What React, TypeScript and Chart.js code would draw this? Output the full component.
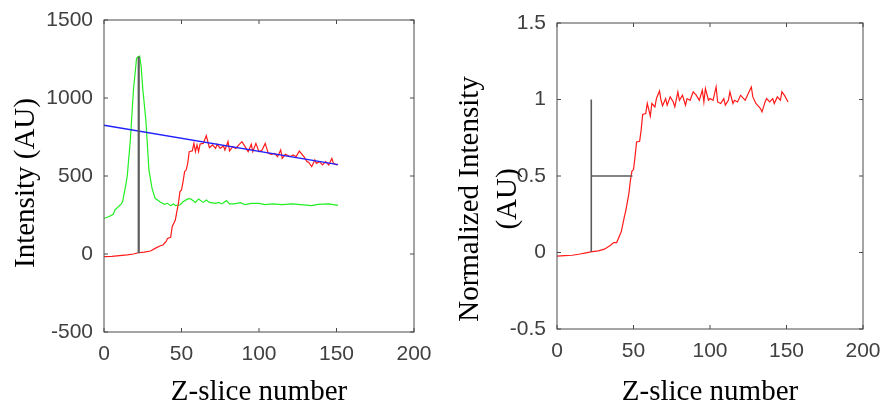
import React, { useEffect, useRef } from 'react';
import { Chart, registerables } from 'chart.js';

Chart.register(...registerables);

// ---------- Axis ticks ----------
const xTicks = [0, 50, 100, 150, 200];
const leftYTicks = [-500, 0, 500, 1000, 1500];
const rightYTicks = [-0.5, 0, 0.5, 1, 1.5];

// ---------- Left panel data ----------
const redSlices = [0, 5, 10, 15, 19, 22, 26, 30, 33, 36, 38, 40, 41, 43, 44, 46, 47, 48, 49, 50, 51, 52, 53, 54, 55, 57, 58, 59, 60, 61, 62, 64, 66, 68, 70, 72, 73, 75, 77, 78, 80, 81, 83, 85, 87, 89, 91, 93, 95, 96, 98, 100, 102, 104, 106, 108, 110, 112, 114, 115, 117, 120, 122, 124, 126, 129, 131, 132, 134, 136, 137, 139, 141, 143, 145, 147, 148, 150, 151];
const redIntensity = [-17, -15, -11, -6, 0, 8, 12, 19, 36, 51, 58, 79, 100, 107, 175, 218, 271, 325, 400, 410, 464, 528, 538, 581, 656, 662, 709, 656, 699, 656, 705, 709, 758, 682, 699, 677, 703, 677, 694, 667, 720, 660, 688, 677, 699, 720, 688, 656, 703, 656, 709, 656, 667, 709, 645, 639, 645, 624, 667, 613, 639, 624, 635, 624, 660, 624, 592, 588, 560, 603, 581, 592, 571, 592, 571, 613, 581, 571, 575];

const greenSlices = [0, 3, 6, 7, 11, 12, 14, 15, 17, 19, 21, 22, 23, 24, 25, 27, 29, 31, 33, 36, 39, 41, 43, 45, 46, 49, 51, 54, 56, 59, 61, 64, 66, 68, 72, 74, 76, 79, 81, 84, 88, 91, 95, 100, 104, 109, 115, 121, 127, 134, 138, 145, 151];
const greenIntensity = [229, 239, 254, 282, 320, 335, 440, 500, 731, 1051, 1254, 1265, 1269, 1200, 1060, 859, 538, 421, 357, 335, 318, 325, 310, 321, 310, 314, 335, 353, 353, 331, 353, 331, 346, 331, 325, 331, 321, 342, 321, 321, 329, 316, 325, 325, 316, 321, 316, 321, 316, 310, 318, 321, 312];

const fitSlices = [0, 151];
const fitIntensity = [825, 573];

const markerSlices = [22.4, 22.4];
const markerIntensity = [5, 1265];

// ---------- Right panel data ----------
const normSlices = [0, 5, 10, 15, 19, 22, 27, 31, 35, 37, 39, 41, 42, 44, 45, 46, 47, 48, 49, 50, 51, 52, 54, 55, 56, 58, 59, 61, 62, 64, 65, 67, 68, 69, 71, 72, 74, 76, 77, 79, 80, 82, 84, 85, 87, 89, 91, 93, 95, 96, 97, 99, 100, 102, 104, 105, 107, 109, 110, 112, 113, 115, 116, 118, 120, 122, 123, 125, 127, 128, 130, 131, 133, 134, 136, 137, 139, 141, 142, 144, 146, 147, 149, 151];
const normIntensity = [-0.024, -0.021, -0.018, -0.01, -0.002, 0.004, 0.011, 0.022, 0.048, 0.065, 0.065, 0.113, 0.135, 0.233, 0.276, 0.331, 0.386, 0.473, 0.533, 0.542, 0.625, 0.723, 0.727, 0.8, 0.902, 0.908, 0.974, 0.891, 0.974, 0.952, 1.007, 1.056, 0.995, 0.96, 1.006, 0.963, 1.017, 0.984, 0.952, 1.05, 0.995, 1.028, 0.963, 1.006, 0.995, 1.05, 1.028, 0.995, 1.061, 0.984, 1.072, 0.995, 1.006, 0.995, 1.082, 0.984, 0.974, 1.006, 0.963, 0.995, 1.05, 0.974, 0.995, 0.984, 1.028, 1.006, 0.995, 1.039, 1.082, 1.017, 0.974, 0.963, 0.941, 0.919, 0.984, 1.006, 0.984, 1.006, 0.974, 1.017, 0.995, 1.05, 1.022, 0.984];

const halfVertSlices = [22.4, 22.4];
const halfVertValues = [0.004, 1];
const halfHorizSlices = [22.4, 49.3];
const halfHorizValues = [0.5, 0.5];

const pts = (xs: number[], ys: number[]) => xs.map((x, i) => ({ x, y: ys[i] }));

const line = (xs: number[], ys: number[], color: string, width: number, order: number) => ({
  data: pts(xs, ys),
  borderColor: color,
  backgroundColor: color,
  borderWidth: width,
  pointRadius: 0,
  showLine: true,
  fill: false,
  tension: 0,
  order,
});

type FrameCfg = {
  xTitle: string;
  xTitleBaseline: number;
  yTitle: string[];
  yTitleBaselines: number[];
  yTitleCenter: number;
};

function makeFrame(cfg: FrameCfg) {
  return {
    id: 'frame',
    afterDraw(chart: any) {
      const { ctx, chartArea: a, scales } = chart;
      const xs = scales.x;
      const ys = scales.y;
      ctx.save();
      ctx.strokeStyle = '#4a4a4a';
      ctx.lineWidth = 1;
      ctx.strokeRect(a.left, a.top, a.right - a.left, a.bottom - a.top);
      ctx.beginPath();
      const L = 4;
      ys.ticks.forEach((t: any) => {
        const y = ys.getPixelForValue(t.value);
        ctx.moveTo(a.left, y);
        ctx.lineTo(a.left + L, y);
        ctx.moveTo(a.right, y);
        ctx.lineTo(a.right - L, y);
      });
      xs.ticks.forEach((t: any) => {
        const x = xs.getPixelForValue(t.value);
        ctx.moveTo(x, a.bottom);
        ctx.lineTo(x, a.bottom - L);
        ctx.moveTo(x, a.top);
        ctx.lineTo(x, a.top + L);
      });
      ctx.stroke();

      ctx.fillStyle = '#000';
      ctx.font = '29px "Liberation Serif", "Times New Roman", serif';
      ctx.textAlign = 'center';
      ctx.textBaseline = 'alphabetic';
      ctx.fillText(cfg.xTitle, (a.left + a.right) / 2, cfg.xTitleBaseline);
      cfg.yTitle.forEach((txt, i) => {
        ctx.save();
        ctx.translate(cfg.yTitleBaselines[i], cfg.yTitleCenter);
        ctx.rotate(-Math.PI / 2);
        ctx.fillText(txt, 0, 0);
        ctx.restore();
      });
      ctx.restore();
    },
  };
}

function buildOptions(
  yMin: number,
  yMax: number,
  yTicks: number[],
  yWidth: number,
  xHeight: number,
  padTop: number,
  padRight: number
) {
  const tickFont = { family: '"Liberation Sans", Arial, sans-serif', size: 21 };
  return {
    responsive: false,
    animation: false as const,
    layout: { padding: { left: 0, top: padTop, right: padRight, bottom: 0 } },
    plugins: { legend: { display: false }, tooltip: { enabled: false } },
    events: [],
    scales: {
      x: {
        type: 'linear' as const,
        min: 0,
        max: 200,
        grid: { display: false, drawTicks: false },
        border: { display: false },
        afterBuildTicks: (s: any) => {
          s.ticks = xTicks.map((v) => ({ value: v }));
        },
        afterFit: (s: any) => {
          s.height = xHeight;
          s.paddingLeft = 0;
          s.paddingRight = 0;
          s.paddingTop = 0;
          s.paddingBottom = 0;
        },
        ticks: {
          autoSkip: false,
          maxRotation: 0,
          padding: 10,
          color: '#404040',
          font: tickFont,
          callback: (v: any) => String(v),
        },
      },
      y: {
        type: 'linear' as const,
        min: yMin,
        max: yMax,
        grid: { display: false, drawTicks: false },
        border: { display: false },
        afterBuildTicks: (s: any) => {
          s.ticks = yTicks.map((v) => ({ value: v }));
        },
        afterFit: (s: any) => {
          s.width = yWidth;
          s.paddingLeft = 0;
          s.paddingRight = 0;
          s.paddingTop = 0;
          s.paddingBottom = 0;
        },
        ticks: {
          autoSkip: false,
          padding: 11,
          color: '#404040',
          font: tickFont,
          callback: (v: any) => String(v),
        },
      },
    },
  };
}

export default function App() {
  const leftRef = useRef<HTMLCanvasElement | null>(null);
  const rightRef = useRef<HTMLCanvasElement | null>(null);

  useEffect(() => {
    const left = new Chart(leftRef.current as HTMLCanvasElement, {
      type: 'scatter',
      data: {
        datasets: [
          line(markerSlices, markerIntensity, '#5c5c5c', 2.2, 0),
          line(fitSlices, fitIntensity, '#2020ff', 1.4, 1),
          line(redSlices, redIntensity, '#ff1a1a', 1.2, 2),
          line(greenSlices, greenIntensity, '#22ee22', 1.2, 3),
        ] as any,
      },
      options: buildOptions(-500, 1500, leftYTicks, 104, 74, 20, 27) as any,
      plugins: [
        makeFrame({
          xTitle: 'Z-slice number',
          xTitleBaseline: 400,
          yTitle: ['Intensity (AU)'],
          yTitleBaselines: [34],
          yTitleCenter: 183,
        }),
      ],
    });

    const right = new Chart(rightRef.current as HTMLCanvasElement, {
      type: 'scatter',
      data: {
        datasets: [
          line(halfVertSlices, halfVertValues, '#5c5c5c', 1.6, 0),
          line(halfHorizSlices, halfHorizValues, '#5c5c5c', 1.6, 1),
          line(normSlices, normIntensity, '#ff1a1a', 1.2, 2),
        ] as any,
      },
      options: buildOptions(-0.5, 1.5, rightYTicks, 116, 77, 23, 19) as any,
      plugins: [
        makeFrame({
          xTitle: 'Z-slice number',
          xTitleBaseline: 400,
          yTitle: ['Normalized Intensity', '(AU)'],
          yTitleBaselines: [37, 75],
          yTitleCenter: 199,
        }),
      ],
    });

    return () => {
      left.destroy();
      right.destroy();
    };
  }, []);

  return (
    <div style={{ position: 'absolute', left: 0, top: 0, width: 882, height: 406, background: '#fff' }}>
      <canvas
        ref={leftRef}
        width={441}
        height={406}
        style={{ position: 'absolute', left: 0, top: 0, width: 441, height: 406 }}
      />
      <canvas
        ref={rightRef}
        width={441}
        height={406}
        style={{ position: 'absolute', left: 441, top: 0, width: 441, height: 406 }}
      />
    </div>
  );
}
